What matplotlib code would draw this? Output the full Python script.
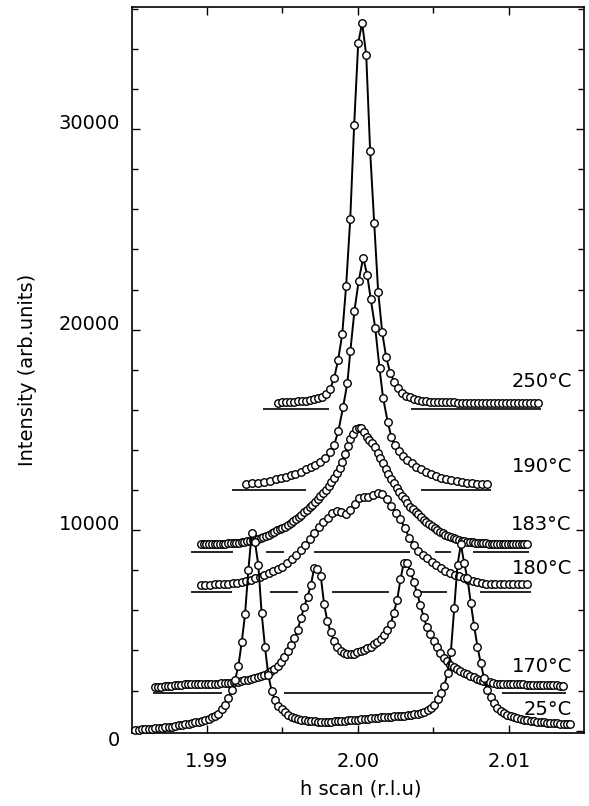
import matplotlib
matplotlib.use("Agg")
import matplotlib.pyplot as plt
from matplotlib.ticker import FixedLocator, MultipleLocator, FormatStrFormatter

plt.rcParams['font.family'] = ['DejaVu Sans']

# ---------------- data ----------------
h_250 = [1.99472, 1.99498, 1.99525, 1.99551, 1.99578, 1.99604, 1.99631, 1.99657, 1.99684, 1.99710,
         1.99737, 1.99763, 1.99790, 1.99816, 1.99843, 1.99869, 1.99896, 1.99922, 1.99949, 1.99975,
         2.00002, 2.00028, 2.00055, 2.00081, 2.00108, 2.00134, 2.00161, 2.00187, 2.00214, 2.00240,
         2.00267, 2.00293, 2.00320, 2.00346, 2.00373, 2.00399, 2.00426, 2.00452, 2.00479, 2.00505,
         2.00532, 2.00558, 2.00585, 2.00611, 2.00638, 2.00664, 2.00691, 2.00717, 2.00744, 2.00770,
         2.00797, 2.00823, 2.00850, 2.00876, 2.00903, 2.00929, 2.00956, 2.00982, 2.01009, 2.01035,
         2.01062, 2.01088, 2.01115, 2.01141, 2.01168, 2.01194]
I_250 = [16360, 16370, 16380, 16390, 16400, 16420, 16440, 16460, 16490, 16530,
         16580, 16660, 16790, 17050, 17600, 18500, 19770, 22200, 25500, 30200,
         34300, 35300, 33700, 28900, 25300, 21900, 19870, 18620, 17850, 17400,
         17080, 16830, 16710, 16620, 16550, 16500, 16460, 16430, 16410, 16400,
         16390, 16385, 16380, 16375, 16370, 16365, 16360, 16360, 16355, 16350,
         16350, 16345, 16345, 16340, 16340, 16340, 16335, 16335, 16335, 16330,
         16330, 16330, 16330, 16330, 16330, 16330]

h_190 = [1.99260, 1.99300, 1.99340, 1.99378, 1.99415, 1.99455, 1.99492, 1.99526, 1.99555, 1.99583,
         1.99620, 1.99654, 1.99687, 1.99716, 1.99747, 1.99782, 1.99813, 1.99842, 1.99871, 1.99902,
         1.99930, 1.99950, 1.99977, 2.00005, 2.00035, 2.00062, 2.00085, 2.00115, 2.00143, 2.00167,
         2.00198, 2.00222, 2.00244, 2.00271, 2.00300, 2.00327, 2.00355, 2.00386, 2.00419, 2.00453,
         2.00486, 2.00519, 2.00552, 2.00585, 2.00618, 2.00654, 2.00687, 2.00720, 2.00753, 2.00786,
         2.00820, 2.00857]
I_190 = [12290, 12340, 12370, 12420, 12470, 12540, 12620, 12670, 12740, 12800,
         12920, 13040, 13170, 13250, 13420, 13590, 13920, 14250, 14960, 16160,
         17330, 18950, 20950, 22430, 23590, 22710, 21520, 20070, 18080, 16580,
         15380, 14630, 14250, 13950, 13700, 13500, 13340, 13170, 13040, 12920,
         12800, 12700, 12620, 12550, 12500, 12450, 12400, 12370, 12340, 12320,
         12310, 12300]

h_183 = [1.98960, 1.98978, 1.98996, 1.99014, 1.99032, 1.99050, 1.99068, 1.99086, 1.99104, 1.99122,
         1.99140, 1.99158, 1.99176, 1.99194, 1.99212, 1.99230, 1.99248, 1.99266, 1.99284, 1.99302,
         1.99320, 1.99338, 1.99356, 1.99374, 1.99392, 1.99410, 1.99428, 1.99446, 1.99464, 1.99482,
         1.99500, 1.99518, 1.99536, 1.99554, 1.99572, 1.99590, 1.99608, 1.99626, 1.99644, 1.99662,
         1.99680, 1.99698, 1.99716, 1.99734, 1.99752, 1.99770, 1.99788, 1.99806, 1.99824, 1.99842,
         1.99860, 1.99878, 1.99896, 1.99914, 1.99932, 1.99950, 1.99968, 1.99986, 2.00004, 2.00022,
         2.00040, 2.00058, 2.00076, 2.00094, 2.00112, 2.00130, 2.00148, 2.00166, 2.00184, 2.00202,
         2.00220, 2.00238, 2.00256, 2.00274, 2.00292, 2.00310, 2.00328, 2.00346, 2.00364, 2.00382,
         2.00400, 2.00418, 2.00436, 2.00454, 2.00472, 2.00490, 2.00508, 2.00526, 2.00544, 2.00562,
         2.00580, 2.00598, 2.00616, 2.00634, 2.00652, 2.00670, 2.00688, 2.00706, 2.00724, 2.00742,
         2.00760, 2.00778, 2.00796, 2.00814, 2.00832, 2.00850, 2.00868, 2.00886, 2.00904, 2.00922,
         2.00940, 2.00958, 2.00976, 2.00994, 2.01012, 2.01030, 2.01048, 2.01066, 2.01084, 2.01102,
         2.01120]
I_183 = [9297, 9300, 9303, 9306, 9310, 9314, 9318, 9322, 9327, 9333,
         9340, 9350, 9360, 9372, 9384, 9397, 9420, 9445, 9475, 9505,
         9540, 9580, 9630, 9680, 9720, 9780, 9850, 9920, 9990, 10050,
         10094, 10180, 10270, 10370, 10470, 10570, 10670, 10780, 10900, 11020,
         11140, 11257, 11400, 11550, 11710, 11870, 12010, 12200, 12400, 12590,
         12850, 13120, 13420, 13800, 14200, 14550, 14800, 15030, 15120, 15080,
         14880, 14660, 14480, 14333, 14130, 13870, 13600, 13330, 13060, 12800,
         12560, 12338, 12100, 11890, 11700, 11540, 11360, 11180, 11050, 10920,
         10790, 10650, 10510, 10410, 10310, 10210, 10110, 10010, 9920, 9840,
         9780, 9720, 9670, 9610, 9560, 9520, 9480, 9450, 9426, 9410,
         9395, 9380, 9365, 9355, 9346, 9340, 9334, 9328, 9322, 9316,
         9311, 9308, 9305, 9303, 9301, 9300, 9299, 9298, 9297, 9297,
         9297]

h_180 = [1.98960, 1.98990, 1.99020, 1.99050, 1.99080, 1.99110, 1.99140, 1.99170, 1.99200, 1.99230,
         1.99260, 1.99290, 1.99320, 1.99350, 1.99380, 1.99410, 1.99440, 1.99470, 1.99500, 1.99530,
         1.99560, 1.99590, 1.99620, 1.99650, 1.99680, 1.99710, 1.99740, 1.99770, 1.99800, 1.99830,
         1.99860, 1.99890, 1.99920, 1.99950, 1.99980, 2.00010, 2.00040, 2.00070, 2.00100, 2.00130,
         2.00160, 2.00190, 2.00220, 2.00250, 2.00280, 2.00310, 2.00340, 2.00370, 2.00400, 2.00430,
         2.00460, 2.00490, 2.00520, 2.00550, 2.00580, 2.00610, 2.00640, 2.00670, 2.00700, 2.00730,
         2.00760, 2.00790, 2.00820, 2.00850, 2.00880, 2.00910, 2.00940, 2.00970, 2.01000, 2.01030,
         2.01060, 2.01090, 2.01120]
I_180 = [7267, 7275, 7285, 7295, 7305, 7320, 7340, 7350, 7380, 7420,
         7466, 7530, 7600, 7670, 7760, 7850, 7950, 8060, 8180, 8370,
         8570, 8780, 9000, 9260, 9570, 9880, 10150, 10400, 10620, 10850,
         10960, 10900, 10800, 11000, 11300, 11600, 11640, 11670, 11740, 11850,
         11800, 11550, 11200, 10880, 10580, 10100, 9630, 9250, 8970, 8770,
         8590, 8430, 8250, 8090, 7970, 7870, 7790, 7710, 7620, 7530,
         7460, 7400, 7370, 7340, 7316, 7310, 7305, 7300, 7300, 7300,
         7300, 7300, 7300]

h_170 = [1.98654, 1.98676, 1.98698, 1.98720, 1.98742, 1.98764, 1.98786, 1.98808, 1.98830, 1.98852,
         1.98874, 1.98896, 1.98918, 1.98940, 1.98962, 1.98984, 1.99006, 1.99028, 1.99050, 1.99072,
         1.99094, 1.99116, 1.99138, 1.99160, 1.99182, 1.99204, 1.99226, 1.99248, 1.99270, 1.99292,
         1.99314, 1.99336, 1.99358, 1.99380, 1.99402, 1.99424, 1.99446, 1.99468, 1.99490, 1.99512,
         1.99534, 1.99556, 1.99578, 1.99600, 1.99622, 1.99644, 1.99666, 1.99688, 1.99710, 1.99732,
         1.99754, 1.99776, 1.99798, 1.99820, 1.99842, 1.99864, 1.99886, 1.99908, 1.99930, 1.99952,
         1.99974, 1.99996, 2.00018, 2.00040, 2.00062, 2.00084, 2.00106, 2.00128, 2.00150, 2.00172,
         2.00194, 2.00216, 2.00238, 2.00260, 2.00282, 2.00304, 2.00326, 2.00348, 2.00370, 2.00392,
         2.00414, 2.00436, 2.00458, 2.00480, 2.00502, 2.00524, 2.00546, 2.00568, 2.00590, 2.00612,
         2.00634, 2.00656, 2.00678, 2.00700, 2.00722, 2.00744, 2.00766, 2.00788, 2.00810, 2.00832,
         2.00854, 2.00876, 2.00898, 2.00920, 2.00942, 2.00964, 2.00986, 2.01008, 2.01030, 2.01052,
         2.01074, 2.01096, 2.01118, 2.01140, 2.01162, 2.01184, 2.01206, 2.01228, 2.01250, 2.01272,
         2.01294, 2.01316, 2.01338, 2.01360]
I_170 = [2165, 2180, 2195, 2210, 2230, 2250, 2265, 2280, 2295, 2305,
         2314, 2318, 2320, 2325, 2330, 2330, 2335, 2340, 2344, 2350,
         2360, 2370, 2380, 2394, 2420, 2450, 2480, 2515, 2545, 2580,
         2620, 2670, 2710, 2780, 2900, 2990, 3100, 3250, 3450, 3700,
         3950, 4250, 4600, 5022, 5600, 6185, 6683, 7267, 8100, 8050,
         7700, 6300, 5450, 4900, 4470, 4190, 3990, 3890, 3850, 3825,
         3840, 3900, 3990, 4040, 4110, 4190, 4300, 4400, 4550, 4750,
         5000, 5300, 5885, 6519, 7551, 8379, 8349, 7930, 7431, 6853,
         6269, 5650, 5150, 4800, 4470, 4150, 3880, 3650, 3480, 3290,
         3180, 3080, 2990, 2900, 2830, 2740, 2660, 2590, 2535, 2490,
         2450, 2410, 2370, 2350, 2335, 2330, 2325, 2320, 2318, 2314,
         2310, 2305, 2300, 2295, 2290, 2285, 2280, 2275, 2270, 2265,
         2260, 2255, 2250, 2245]

h_25 = [1.98526, 1.98548, 1.98570, 1.98592, 1.98614, 1.98636, 1.98658, 1.98680, 1.98702, 1.98724,
        1.98746, 1.98768, 1.98790, 1.98812, 1.98834, 1.98856, 1.98878, 1.98900, 1.98922, 1.98944,
        1.98966, 1.98988, 1.99010, 1.99032, 1.99054, 1.99076, 1.99098, 1.99120, 1.99142, 1.99164,
        1.99186, 1.99208, 1.99230, 1.99252, 1.99274, 1.99296, 1.99318, 1.99340, 1.99362, 1.99384,
        1.99406, 1.99428, 1.99450, 1.99472, 1.99494, 1.99516, 1.99538, 1.99560, 1.99582, 1.99604,
        1.99626, 1.99648, 1.99670, 1.99692, 1.99714, 1.99736, 1.99758, 1.99780, 1.99802, 1.99824,
        1.99846, 1.99868, 1.99890, 1.99912, 1.99934, 1.99956, 1.99978, 2.00000, 2.00022, 2.00044,
        2.00066, 2.00088, 2.00110, 2.00132, 2.00154, 2.00176, 2.00198, 2.00220, 2.00242, 2.00264,
        2.00286, 2.00308, 2.00330, 2.00352, 2.00374, 2.00396, 2.00418, 2.00440, 2.00462, 2.00484,
        2.00506, 2.00528, 2.00550, 2.00572, 2.00594, 2.00616, 2.00638, 2.00660, 2.00682, 2.00704,
        2.00726, 2.00748, 2.00770, 2.00792, 2.00814, 2.00836, 2.00858, 2.00880, 2.00902, 2.00924,
        2.00946, 2.00968, 2.00990, 2.01012, 2.01034, 2.01056, 2.01078, 2.01100, 2.01122, 2.01144,
        2.01166, 2.01188, 2.01210, 2.01232, 2.01254, 2.01276, 2.01298, 2.01320, 2.01342, 2.01364,
        2.01386, 2.01408]
I_25 = [35, 50, 65, 85, 95, 105, 118, 130, 145, 168,
        185, 205, 234, 260, 290, 317, 345, 380, 417, 455,
        495, 534, 595, 667, 745, 833, 1066, 1300, 1650, 2050,
        2529, 3242, 4410, 5805, 8015, 9845, 9400, 8264, 5855, 4190,
        2778, 1995, 1531, 1232, 1066, 916, 800, 700, 640, 584,
        545, 515, 490, 475, 460, 450, 450, 448, 450, 455,
        465, 475, 485, 495, 510, 525, 540, 555, 570, 585,
        600, 615, 630, 650, 700, 680, 690, 700, 710, 720,
        730, 745, 765, 790, 815, 850, 890, 950, 1030, 1117,
        1300, 1560, 1900, 2244, 2863, 3940, 6100, 8264, 9311, 8350,
        7600, 6350, 5222, 4190, 3362, 2613, 2030, 1696, 1366, 1117,
        990, 880, 783, 720, 667, 615, 567, 540, 510, 484,
        470, 455, 440, 417, 405, 395, 380, 367, 355, 340,
        330, 317]

temperatures = ['250°C', '190°C', '183°C', '180°C', '170°C', '25°C']
# background level for each scan (horizontal reference lines)
baseline_levels = [16030, 12005, 8930, 6903, 1865]
baseline_pieces = [
    [(1.99373, 1.99809), (2.00353, 2.01211)],
    [(1.99163, 1.99658), (2.00415, 2.00879)],
    [(1.98893, 1.99174), (1.99388, 1.99510), (1.99709, 2.00348), (2.00514, 2.00614), (2.00764, 2.01133)],
    [(1.98893, 1.99165), (1.99415, 1.99605), (1.99826, 2.00204), (2.00393, 2.00592), (2.00808, 2.01145)],
    [(1.98641, 1.99101), (1.99510, 2.00497), (2.00957, 2.01377)],
]

x_ticks = [1.99, 2.00, 2.01]
y_ticks = [0, 10000, 20000, 30000]

# ---------------- figure ----------------
fig = plt.figure(figsize=(5.89, 8.06), dpi=100)
ax = fig.add_axes([132 / 589, 73 / 806, 452 / 589, 726 / 806])

series = [(h_250, I_250), (h_190, I_190), (h_183, I_183),
          (h_180, I_180), (h_170, I_170), (h_25, I_25)]

for level, pieces in zip(baseline_levels, baseline_pieces):
    for a, b in pieces:
        ax.plot([a, b], [level, level], color='black', lw=1.2, solid_capstyle='butt', zorder=2)

for z, (h, I) in enumerate(series):
    n = min(len(h), len(I))
    ax.plot(h[:n], I[:n], '-', color='black', lw=1.4,
            marker='o', ms=5.4, mfc='white', mec='black', mew=1.0,
            zorder=3 + z, clip_on=False)

label_x = 2.01417
label_y = [17157, 12918, 10010, 7800, 2943, 783]
for t, yy in zip(temperatures, label_y):
    ax.text(label_x, yy, t, ha='right', va='baseline', fontsize=14, color='black', zorder=20)

ax.set_xlim(1.98503, 2.01498)
ax.set_ylim(-115, 36094)

ax.xaxis.set_major_locator(FixedLocator(x_ticks))
ax.xaxis.set_minor_locator(MultipleLocator(0.005))
ax.xaxis.set_major_formatter(FormatStrFormatter('%.2f'))
ax.yaxis.set_major_locator(FixedLocator(y_ticks))
ax.yaxis.set_minor_locator(MultipleLocator(2000))
ax.yaxis.set_major_formatter(FormatStrFormatter('%d'))

ax.tick_params(which='both', direction='in', top=True, right=True, width=1.0, labelsize=14)
ax.tick_params(which='major', length=6)
ax.tick_params(which='minor', length=4.5)
ax.tick_params(axis='x', which='both', pad=14)
ax.tick_params(axis='y', which='both', pad=8.6)

for sp in ax.spines.values():
    sp.set_linewidth(1.2)

ax.set_xlabel('h scan (r.l.u)', fontsize=14)
ax.xaxis.set_label_coords(0.507, -0.0634)
ax.set_ylabel('Intensity (arb.units)', fontsize=14)
ax.yaxis.set_label_coords(-0.21, 0.5)

fig.canvas.draw()
for tk in ax.yaxis.get_major_ticks():
    val = tk.get_loc()
    if val == 0:
        tk.label1.set_va('top')
    else:
        tk.label1.set_va('baseline')

fig.savefig('out.png', dpi=100)
